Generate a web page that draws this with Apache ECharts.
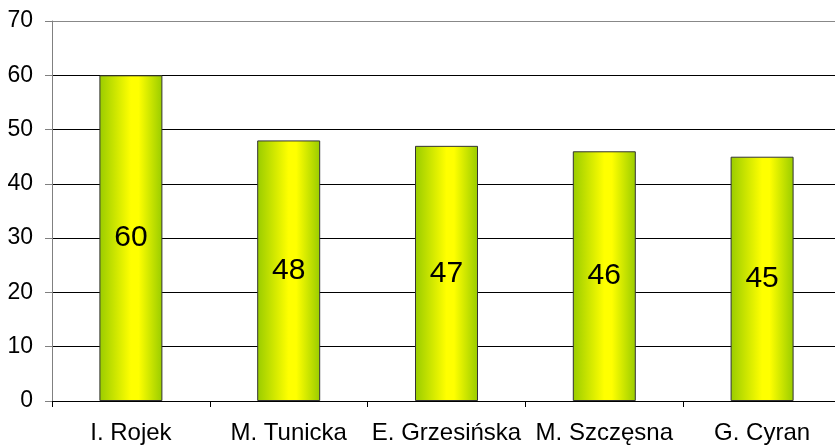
<!DOCTYPE html>
<html><head><meta charset="utf-8">
<script src="https://cdn.jsdelivr.net/npm/echarts@6/dist/echarts.min.js"></script>
<style>html,body{margin:0;padding:0;background:#fff}#c{width:835px;height:445px}</style>
</head><body><div id="c"></div>
<script>
const categories = ['I. Rojek', 'M. Tunicka', 'E. Grzesińska', 'M. Szczęsna', 'G. Cyran'];
const values = [60, 48, 47, 46, 45];
const yTicks = { min: 0, max: 70, interval: 10 };

const chart = echarts.init(document.getElementById('c'), null, { renderer: 'canvas' });
const grad = new echarts.graphic.LinearGradient(0, 0, 1, 0, [
  { offset: 0, color: '#99cc00' },
  { offset: 0.5, color: '#ffff00' },
  { offset: 0.62, color: '#ffff00' },
  { offset: 1, color: '#99cc00' }
]);
chart.setOption({
  animation: false,
  grid: { left: 52, top: 21, bottom: 44, width: 789, containLabel: false, outerBoundsMode: 'none' },
  xAxis: {
    type: 'category', data: categories,
    axisLine: { show: true, lineStyle: { color: '#000', width: 1 } },
    axisTick: { show: true, alignWithLabel: false, length: 6, lineStyle: { color: '#000' } },
    axisLabel: { color: '#000', fontFamily: 'Liberation Sans, Arial', fontSize: 24, margin: 20, interval: 0 }
  },
  yAxis: {
    type: 'value', min: yTicks.min, max: yTicks.max, interval: yTicks.interval,
    axisLine: { show: true, lineStyle: { color: '#808080', width: 1 } },
    axisTick: { show: true, length: 7, lineStyle: { color: '#808080' } },
    axisLabel: { color: '#000', fontFamily: 'Liberation Sans, Arial', fontSize: 23, margin: 19 },
    splitLine: { show: true, lineStyle: { color: ['#000','#000','#000','#000','#000','#000','#000','#888'], width: 1 } }
  },
  series: [{
    type: 'bar', data: values, barWidth: 63,
    itemStyle: { color: grad, borderColor: '#333', borderWidth: 1 },
    label: { show: true, position: 'inside', color: '#000', fontFamily: 'Liberation Sans, Arial', fontSize: 30 }
  }]
});
</script></body></html>
